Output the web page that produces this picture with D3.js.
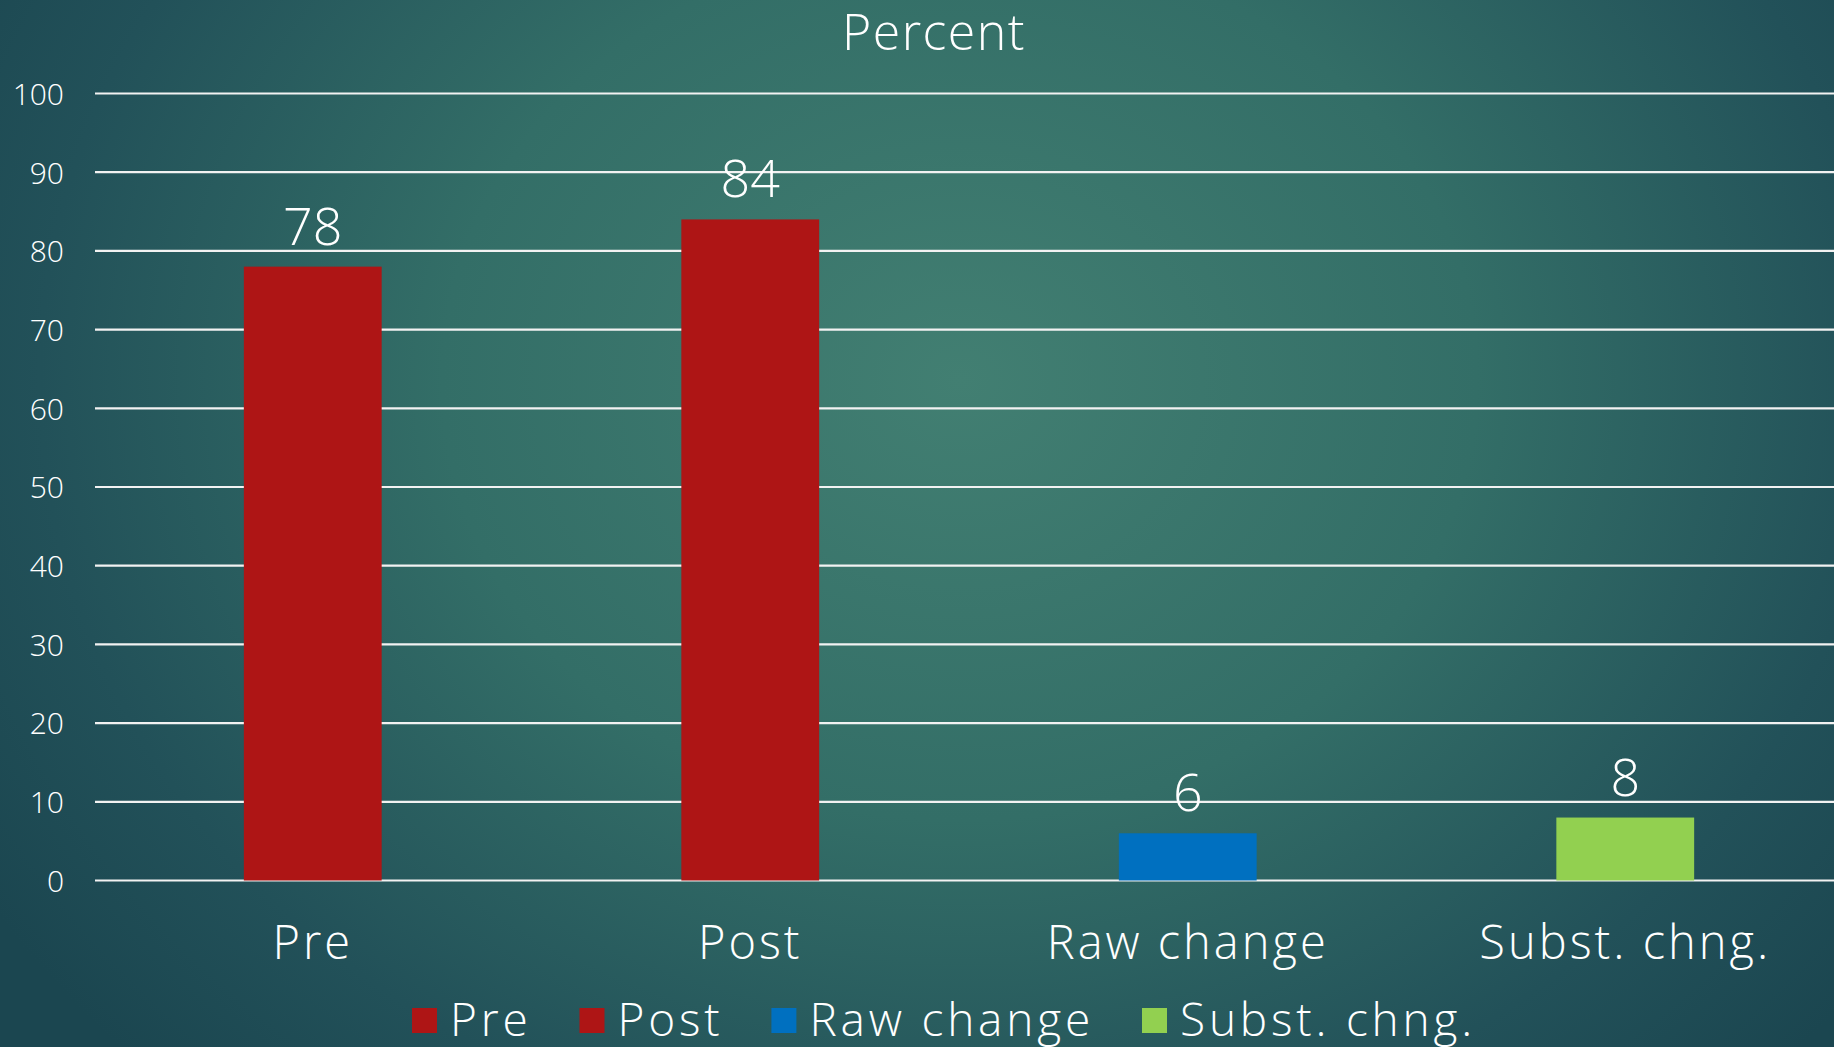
<!DOCTYPE html>
<html>
<head>
<meta charset="utf-8">
<script src="https://cdn.jsdelivr.net/npm/d3@7"></script>
<style>
  html, body { margin: 0; padding: 0; overflow: hidden; }
  svg { display: block; }
  text { font-family: "Open Sans", "DejaVu Sans", sans-serif; font-weight: 300; fill: #ffffff; }
</style>
</head>
<body>
<svg id="chart" width="1834" height="1047"></svg>
<script>
// Chart data
const categories = ["Pre", "Post", "Raw change", "Subst. chng."];
const values = [78, 84, 6, 8];
const seriesColors = ["#ae1515", "#ae1515", "#0070c0", "#92d050"];
const yTicks = [0, 10, 20, 30, 40, 50, 60, 70, 80, 90, 100];
const titleText = "Percent";

const W = 1834, H = 1047;
const svg = d3.select("#chart");

// Teal slide background with a soft radial glow
const defs = svg.append("defs");
const grad = defs.append("radialGradient")
  .attr("id", "bg")
  .attr("gradientUnits", "userSpaceOnUse")
  .attr("cx", 960).attr("cy", 380).attr("r", 1150)
  .attr("gradientTransform", "translate(960,380) scale(1,0.85) translate(-960,-380)");
grad.append("stop").attr("offset", 0).attr("stop-color", "#427f72");
grad.append("stop").attr("offset", 0.45).attr("stop-color", "#336e67");
grad.append("stop").attr("offset", 0.8).attr("stop-color", "#225159");
grad.append("stop").attr("offset", 1).attr("stop-color", "#1b4650");
svg.append("rect").attr("width", W).attr("height", H).attr("fill", "url(#bg)");

// Scales
const plotLeft = 95, plotRight = 1834;
const x = d3.scaleBand()
  .domain(categories)
  .range([94, 1844])
  .paddingInner(0.685)
  .paddingOuter(0.3425);
const y = d3.scaleLinear().domain([0, 100]).range([880.5, 93.5]);

// Gridlines
svg.append("g")
  .selectAll("line")
  .data(yTicks)
  .join("line")
  .attr("x1", plotLeft).attr("x2", plotRight)
  .attr("y1", d => y(d)).attr("y2", d => y(d))
  .attr("stroke", "#f2f2f2")
  .attr("stroke-width", 2.2);

// Y axis tick labels
const yAxis = d3.axisLeft(y).tickValues(yTicks).tickSize(0).tickPadding(0);
const yg = svg.append("g").attr("transform", "translate(64,0)").call(yAxis);
yg.select(".domain").remove();
yg.selectAll("text")
  .attr("fill", "#ffffff")
  .style("font-size", "30px")
  .style("font-family", "\"Open Sans\", sans-serif")
  .style("font-weight", 300)
  .attr("dy", "0.36em");

// Bars
svg.append("g")
  .selectAll("rect")
  .data(categories)
  .join("rect")
  .attr("x", d => x(d))
  .attr("width", x.bandwidth())
  .attr("y", (d, i) => y(values[i]))
  .attr("height", (d, i) => y(0) - y(values[i]))
  .attr("fill", (d, i) => seriesColors[i]);

// Value labels above bars
svg.append("g")
  .selectAll("text")
  .data(categories)
  .join("text")
  .attr("x", d => x(d) + x.bandwidth() / 2)
  .attr("y", (d, i) => y(values[i]) - 22)
  .attr("text-anchor", "middle")
  .style("font-size", "52px")
  .text((d, i) => values[i]);

// X axis category labels
const xAxis = d3.axisBottom(x).tickSize(0).tickPadding(0);
const xg = svg.append("g").attr("transform", "translate(0,959)").call(xAxis);
xg.select(".domain").remove();
xg.selectAll("text")
  .attr("fill", "#ffffff")
  .attr("dy", 0)
  .attr("y", 0)
  .style("font-family", "\"Open Sans\", sans-serif")
  .style("font-weight", 300)
  .style("letter-spacing", "3px")
  .style("font-size", "47px");

// Title
svg.append("text")
  .attr("x", 934).attr("y", 50)
  .attr("text-anchor", "middle")
  .style("font-size", "50px")
  .style("letter-spacing", "1.5px")
  .text(titleText);

// Legend
const legend = svg.append("g").attr("transform", "translate(0,1036)");
let lx = 412;
categories.forEach((c, i) => {
  legend.append("rect")
    .attr("x", lx).attr("y", -28)
    .attr("width", 25).attr("height", 25)
    .attr("fill", seriesColors[i]);
  const t = legend.append("text")
    .attr("x", lx + 38).attr("y", 0)
    .style("font-size", "46px")
    .style("letter-spacing", "3.8px")
    .text(c);
  lx = lx + 38 + t.node().getComputedTextLength() + 48;
});
</script>
</body>
</html>
